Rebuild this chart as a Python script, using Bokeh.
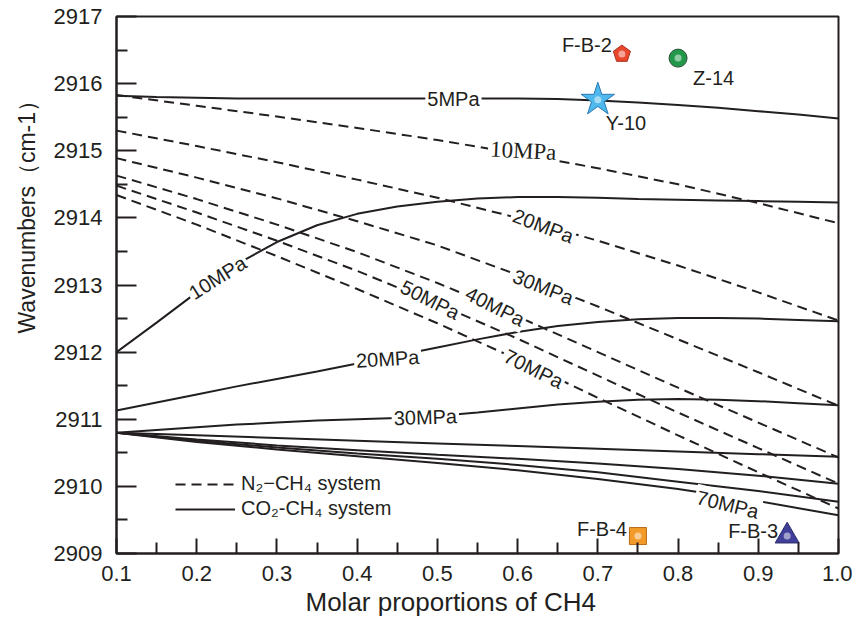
from bokeh.plotting import figure
from bokeh.models import (Label, Legend, LegendItem, FixedTicker, NumeralTickFormatter,
                          Range1d, Title)
from bokeh.embed import file_html
from bokeh.resources import INLINE

# ---------------- data ----------------
x_fine = [0.1, 0.15, 0.2, 0.25, 0.3, 0.35, 0.4, 0.45, 0.5, 0.55, 0.6, 0.65,
          0.7, 0.75, 0.8, 0.85, 0.9, 0.95, 1.0]
x_coarse = [0.1, 0.2, 0.3, 0.4, 0.5, 0.6, 0.7, 0.8, 0.9, 1.0]

# CO2-CH4 system (solid)
co2_5 = [2915.82, 2915.80, 2915.79, 2915.78, 2915.78, 2915.78, 2915.78, 2915.78,
         2915.78, 2915.78, 2915.78, 2915.77, 2915.75, 2915.72, 2915.68, 2915.64,
         2915.59, 2915.54, 2915.48]
co2_10 = [2912.00, 2912.44, 2912.89, 2913.31, 2913.64, 2913.89, 2914.06, 2914.17,
          2914.24, 2914.29, 2914.31, 2914.31, 2914.30, 2914.28, 2914.27, 2914.26,
          2914.25, 2914.24, 2914.23]
co2_20 = [2911.13, 2911.25, 2911.37, 2911.49, 2911.60, 2911.71, 2911.83, 2911.95,
          2912.07, 2912.19, 2912.30, 2912.39, 2912.45, 2912.49, 2912.51, 2912.51,
          2912.50, 2912.48, 2912.46]
co2_30 = [2910.80, 2910.84, 2910.88, 2910.92, 2910.95, 2910.98, 2911.00, 2911.02,
          2911.05, 2911.10, 2911.16, 2911.22, 2911.26, 2911.29, 2911.30, 2911.29,
          2911.27, 2911.24, 2911.21]
co2_40 = [2910.80, 2910.76, 2910.72, 2910.68, 2910.64, 2910.60, 2910.56, 2910.52,
          2910.48, 2910.44]
co2_50 = [2910.80, 2910.70, 2910.61, 2910.54, 2910.47, 2910.41, 2910.34, 2910.26,
          2910.16, 2910.04]
co2_60 = [2910.80, 2910.68, 2910.58, 2910.49, 2910.41, 2910.32, 2910.21, 2910.07,
          2909.93, 2909.77]
co2_70 = [2910.80, 2910.66, 2910.55, 2910.45, 2910.35, 2910.24, 2910.11, 2909.96,
          2909.78, 2909.57]

# N2-CH4 system (dashed)
n2_10 = [2915.83, 2915.67, 2915.51, 2915.34, 2915.16, 2914.96, 2914.74, 2914.50,
         2914.22, 2913.92]
n2_20 = [2915.30, 2915.07, 2914.83, 2914.57, 2914.30, 2914.00, 2913.66, 2913.29,
         2912.89, 2912.47]
n2_30 = [2914.89, 2914.60, 2914.29, 2913.95, 2913.59, 2913.15, 2912.68, 2912.19,
         2911.70, 2911.20]
n2_40 = [2914.63, 2914.28, 2913.90, 2913.49, 2913.03, 2912.53, 2912.00, 2911.47,
         2910.95, 2910.43]
n2_50 = [2914.48, 2914.08, 2913.66, 2913.21, 2912.72, 2912.20, 2911.65, 2911.10,
         2910.57, 2910.04]
n2_70 = [2914.34, 2913.90, 2913.43, 2912.94, 2912.43, 2911.89, 2911.32, 2910.76,
         2910.21, 2909.67]

# samples
sample_names = ["F-B-2", "Z-14", "Y-10", "F-B-4", "F-B-3"]
sample_x = [0.73, 0.80, 0.70, 0.75, 0.936]
sample_y = [2916.44, 2916.38, 2915.76, 2909.26, 2909.26]

x_ticks = [0.1, 0.2, 0.3, 0.4, 0.5, 0.6, 0.7, 0.8, 0.9, 1.0]
y_ticks = [2909, 2910, 2911, 2912, 2913, 2914, 2915, 2916, 2917]

# ---------------- styles ----------------
INK = "#231f20"
FONT = "Liberation Sans"

p = figure(width=852, height=619, output_backend="svg", toolbar_location=None,
           x_range=Range1d(0.1, 1.0), y_range=Range1d(2909, 2917),
           min_border_left=116, min_border_right=14, min_border_top=16,
           min_border_bottom=66)
p.background_fill_color = "white"
p.border_fill_color = "white"
p.outline_line_color = INK
p.outline_line_width = 2
p.grid.visible = False

for ax in (p.xaxis[0], p.yaxis[0]):
    ax.axis_line_color = INK
    ax.axis_line_width = 2
    ax.major_tick_line_color = INK
    ax.minor_tick_line_color = INK
    ax.major_tick_line_width = 2
    ax.minor_tick_line_width = 2
    ax.major_tick_out = 0
    ax.minor_tick_out = 0
    ax.major_label_text_font = FONT
    ax.major_label_text_font_size = "22px"
    ax.major_label_text_color = INK

p.xaxis.ticker = FixedTicker(ticks=x_ticks,
                             minor_ticks=[0.15, 0.25, 0.35, 0.45, 0.55, 0.65, 0.75, 0.85, 0.95])
p.xaxis.formatter = NumeralTickFormatter(format="0.0")
p.xaxis.major_tick_in = 15
p.xaxis.minor_tick_in = 11
p.xaxis.major_label_standoff = 12

p.yaxis.ticker = FixedTicker(ticks=y_ticks,
                             minor_ticks=[2909.5, 2910.5, 2911.5, 2912.5, 2913.5,
                                          2914.5, 2915.5, 2916.5])
p.yaxis.major_tick_in = 20
p.yaxis.minor_tick_in = 11
p.yaxis.major_label_standoff = 14

# axis titles (positioned off-centre like the original)
p.add_layout(Title(text="Wavenumbers\uff08cm-1\uff09", align="left", offset=220,
                   text_font=FONT, text_font_size="23px", text_font_style="normal",
                   text_color=INK, standoff=22), "left")
p.add_layout(Title(text="Molar proportions of CH4", align="left", offset=189,
                   text_font=FONT, text_font_size="26px", text_font_style="normal",
                   text_color=INK, standoff=2), "below")

# ---------------- curves ----------------
solid_fine = [co2_5, co2_10, co2_20, co2_30]
solid_coarse = [co2_40, co2_50, co2_60, co2_70]
dashed = [n2_10, n2_20, n2_30, n2_40, n2_50, n2_70]

r_solid = None
for ys in solid_fine:
    r_solid = p.line(x_fine, ys, line_color=INK, line_width=2)
for ys in solid_coarse:
    p.line(x_coarse, ys, line_color=INK, line_width=2)
r_dash = None
for ys in dashed:
    r = p.line(x_coarse, ys, line_color=INK, line_width=2, line_dash="10 6")
    if r_dash is None:
        r_dash = r

# ---------------- curve labels ----------------
def curve_label(txt, x, y, angle=0.0, font=FONT, size="20px"):
    p.add_layout(Label(x=x, y=y, text=txt, angle=angle, text_font=font,
                       text_font_size=size, text_color=INK, text_align="center",
                       text_baseline="middle", background_fill_color="white",
                       padding=2))

# CO2 (solid)
curve_label("5MPa", 0.52, 2915.77)
curve_label("10MPa", 0.226, 2913.11, angle=0.56)
curve_label("20MPa", 0.438, 2911.90, angle=0.06)
curve_label("30MPa", 0.485, 2911.03, angle=0.03)
curve_label("70MPa", 0.862, 2909.73, angle=-0.24)
# N2 (dashed)
curve_label("10MPa", 0.607, 2915.0, angle=-0.05, font="Liberation Serif", size="23px")
curve_label("20MPa", 0.632, 2913.88, angle=-0.36)
curve_label("30MPa", 0.632, 2912.97, angle=-0.38)
curve_label("40MPa", 0.572, 2912.68, angle=-0.47)
curve_label("50MPa", 0.491, 2912.78, angle=-0.47)
curve_label("70MPa", 0.620, 2911.75, angle=-0.46)

# ---------------- samples ----------------
# F-B-2 pentagon
p.ngon(x=[sample_x[0]], y=[sample_y[0]], radius=9, radius_units="screen", n=5,
       fill_color="#e8472c", line_color="#a83220", line_width=1)
# Z-14 circle
p.scatter([sample_x[1]], [sample_y[1]], marker="circle", size=18,
          fill_color="#22994a", line_color="#2f4f3a", line_width=1)
# Y-10 star
p.scatter([sample_x[2]], [sample_y[2]], marker="star", size=35,
          fill_color="#4fb8ec", line_color="#2a78b5", line_width=1)
# F-B-4 square
p.scatter([sample_x[3]], [sample_y[3]], marker="square", size=17,
          fill_color="#f29b2a", line_color="#b86a14", line_width=1)
# F-B-3 triangle
p.scatter([sample_x[4]], [sample_y[4]], marker="triangle", size=24,
          fill_color="#40409a", line_color="#2a2a6a", line_width=1)
# highlights
p.scatter(sample_x, sample_y, marker="circle", size=7,
          fill_color="white", fill_alpha=0.5, line_color=None)

# sample labels
def sample_label(txt, x, y, align, xoff, yoff):
    p.add_layout(Label(x=x, y=y, text=txt, x_offset=xoff, y_offset=yoff,
                       text_font=FONT, text_font_size="20px", text_color=INK,
                       text_align=align, text_baseline="middle"))

sample_label(sample_names[0], sample_x[0], sample_y[0], "right", -10, 9)
sample_label(sample_names[1], sample_x[1], sample_y[1], "left", 15, -20)
sample_label(sample_names[2], sample_x[2], sample_y[2], "left", 8, -23)
sample_label(sample_names[3], sample_x[3], sample_y[3], "right", -11, 7)
sample_label(sample_names[4], sample_x[4], sample_y[4], "right", -9, 5)

# ---------------- legend ----------------
legend = Legend(items=[LegendItem(label="N\u2082\u2212CH\u2084 system", renderers=[r_dash]),
                       LegendItem(label="CO\u2082-CH\u2084 system", renderers=[r_solid])],
                location=(59, 33), orientation="vertical",
                glyph_width=60, glyph_height=20, label_height=20, spacing=2,
                label_standoff=6, padding=0, margin=0,
                border_line_color=None, background_fill_alpha=0,
                label_text_font=FONT, label_text_font_size="20px",
                label_text_color=INK)
p.add_layout(legend)

open("out.html", "w").write(file_html(p, INLINE))
